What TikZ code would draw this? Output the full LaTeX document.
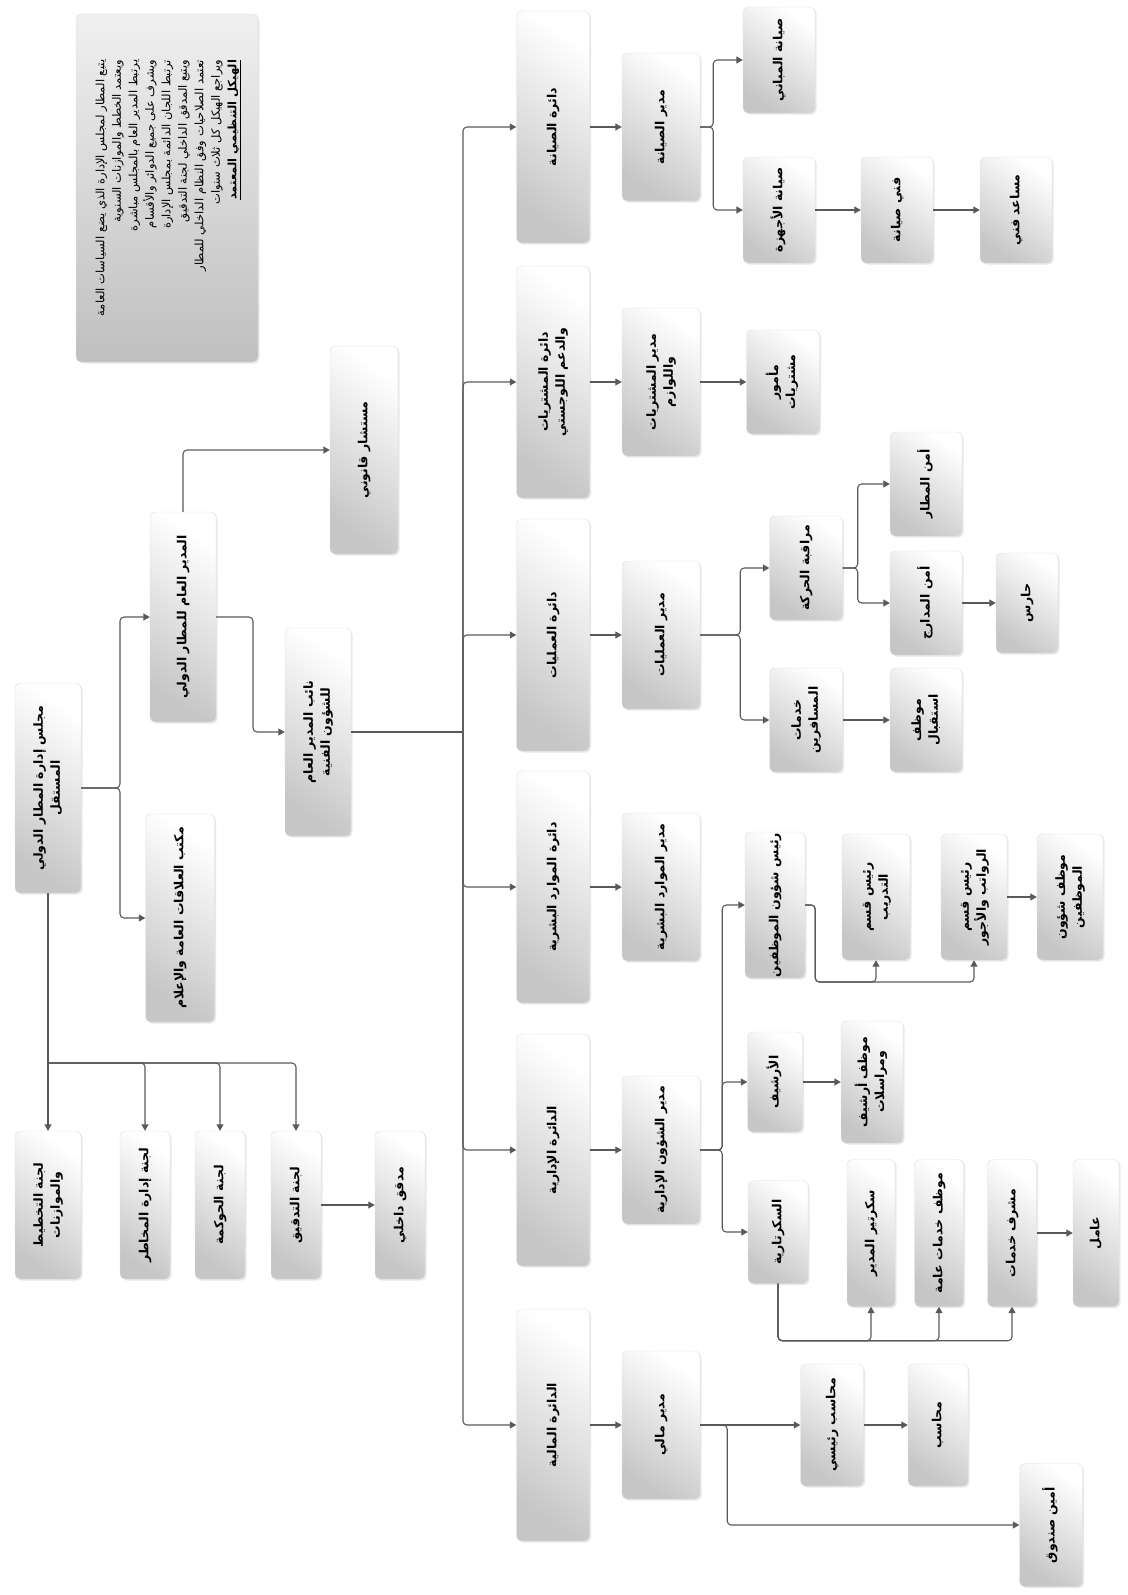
\documentclass[tikz,border=0pt]{standalone}
\usepackage{fontspec}
\usepackage{graphicx}
\usetikzlibrary{arrows.meta,shadows}
\TeXXeTstate=1
\newfontfamily\arabicfont[Script=Arabic]{DejaVu Sans}
\newcommand{\arl}[1]{\beginR #1\endR}
\newcommand{\vlab}[1]{\rotatebox{90}{\arabicfont\bfseries\fontsize{12.5}{17}\selectfont\begin{tabular}{@{}c@{}}#1\end{tabular}}}
\newcommand{\vnote}[1]{\rotatebox{90}{\arabicfont\fontsize{11.5}{16.5}\selectfont\begin{tabular}{@{}r@{}}#1\end{tabular}}}
\tikzset{
  unit/.style={rectangle, rounded corners=5pt, draw=gray!25, top color=white, bottom color=gray!45, shading angle=-35, drop shadow={opacity=0.18, shadow xshift=1.5pt, shadow yshift=-1.5pt}, inner sep=0pt},
  link/.style={draw=black!65, line width=1.1pt, rounded corners=4pt},
  arr/.style={link, -{Triangle[width=7pt,length=6.5pt]}}
}
\begin{document}
\begin{tikzpicture}[x=1pt,y=-1pt]
\useasboundingbox (0,0) rectangle (1127,1595);
\node[unit, top color=gray!12, bottom color=gray!50, minimum width=182pt, minimum height=348pt] (notes) at (167,188) {\vnote{\arl{يتبع المطار لمجلس الإدارة الذي يضع السياسات العامة}\\\arl{ويعتمد الخطط والموازنات السنوية}\\\arl{يرتبط المدير العام بالمجلس مباشرة}\\\arl{ويشرف على جميع الدوائر والأقسام}\\\arl{ترتبط اللجان الدائمة بمجلس الإدارة}\\\arl{ويتبع المدقق الداخلي لجنة التدقيق}\\\arl{تعتمد الصلاحيات وفق النظام الداخلي للمطار}\\\arl{ويراجع الهيكل كل ثلاث سنوات}\\\underline{\arl{\bfseries الهيكل التنظيمي المعتمد}}}};
\node[unit, minimum width=66pt, minimum height=210pt] (root) at (48,788) {\vlab{\arl{مجلس إدارة المطار الدولي}\\\arl{المستقل}}};
\node[unit, minimum width=69pt, minimum height=208pt] (office) at (180,918) {\vlab{\arl{مكتب العلاقات العامة والإعلام}}};
\node[unit, minimum width=66pt, minimum height=210pt] (dg) at (183,617) {\vlab{\arl{المدير العام للمطار الدولي}}};
\node[unit, minimum width=68pt, minimum height=208pt] (adv) at (364,450) {\vlab{\arl{مستشار قانوني}}};
\node[unit, minimum width=66pt, minimum height=208pt] (dep) at (318,732) {\vlab{\arl{نائب المدير العام}\\\arl{للشؤون الفنية}}};
\node[unit, minimum width=66pt, minimum height=148pt] (c1) at (48,1205) {\vlab{\arl{لجنة التخطيط}\\\arl{والموازنات}}};
\node[unit, minimum width=50pt, minimum height=148pt] (c2) at (145,1205) {\vlab{\arl{لجنة إدارة المخاطر}}};
\node[unit, minimum width=50pt, minimum height=148pt] (c3) at (220,1205) {\vlab{\arl{لجنة الحوكمة}}};
\node[unit, minimum width=50pt, minimum height=148pt] (c4) at (296,1205) {\vlab{\arl{لجنة التدقيق}}};
\node[unit, minimum width=50pt, minimum height=148pt] (c5) at (400,1205) {\vlab{\arl{مدقق داخلي}}};
\node[unit, minimum width=73pt, minimum height=232pt] (d1) at (553,127) {\vlab{\arl{دائرة الصيانة}}};
\node[unit, minimum width=73pt, minimum height=232pt] (d2) at (553,382) {\vlab{\arl{دائرة المشتريات}\\\arl{والدعم اللوجستي}}};
\node[unit, minimum width=73pt, minimum height=232pt] (d3) at (553,635) {\vlab{\arl{دائرة العمليات}}};
\node[unit, minimum width=73pt, minimum height=232pt] (d4) at (553,887) {\vlab{\arl{دائرة الموارد البشرية}}};
\node[unit, minimum width=73pt, minimum height=232pt] (d5) at (553,1150) {\vlab{\arl{الدائرة الإدارية}}};
\node[unit, minimum width=73pt, minimum height=232pt] (d6) at (553,1425) {\vlab{\arl{الدائرة المالية}}};
\node[unit, minimum width=78pt, minimum height=148pt] (m1) at (661,127) {\vlab{\arl{مدير الصيانة}}};
\node[unit, minimum width=78pt, minimum height=148pt] (m2) at (661,382) {\vlab{\arl{مدير المشتريات}\\\arl{واللوازم}}};
\node[unit, minimum width=78pt, minimum height=148pt] (m3) at (661,635) {\vlab{\arl{مدير العمليات}}};
\node[unit, minimum width=78pt, minimum height=148pt] (m4) at (661,887) {\vlab{\arl{مدير الموارد البشرية}}};
\node[unit, minimum width=78pt, minimum height=148pt] (m5) at (661,1150) {\vlab{\arl{مدير الشؤون الإدارية}}};
\node[unit, minimum width=78pt, minimum height=148pt] (m6) at (661,1425) {\vlab{\arl{مدير مالي}}};
\node[unit, minimum width=72pt, minimum height=106pt] (s1a) at (779,60) {\vlab{\arl{صيانة المباني}}};
\node[unit, minimum width=72pt, minimum height=106pt] (s1b) at (779,210) {\vlab{\arl{صيانة الأجهزة}}};
\node[unit, minimum width=72pt, minimum height=106pt] (s1c) at (897,210) {\vlab{\arl{فني صيانة}}};
\node[unit, minimum width=72pt, minimum height=106pt] (s1d) at (1016,210) {\vlab{\arl{مساعد فني}}};
\node[unit, minimum width=73pt, minimum height=104pt] (s2a) at (783,382) {\vlab{\arl{مأمور}\\\arl{مشتريات}}};
\node[unit, minimum width=73pt, minimum height=104pt] (s3a) at (806,568) {\vlab{\arl{مراقبة الحركة}}};
\node[unit, minimum width=73pt, minimum height=104pt] (s3b) at (806,720) {\vlab{\arl{خدمات}\\\arl{المسافرين}}};
\node[unit, minimum width=72pt, minimum height=104pt] (s3c) at (926,484) {\vlab{\arl{أمن المطار}}};
\node[unit, minimum width=72pt, minimum height=104pt] (s3d) at (926,603) {\vlab{\arl{أمن المدارج}}};
\node[unit, minimum width=62pt, minimum height=100pt] (s3e) at (1027,603) {\vlab{\arl{حارس}}};
\node[unit, minimum width=72pt, minimum height=104pt] (s3f) at (926,720) {\vlab{\arl{موظف}\\\arl{استقبال}}};
\node[unit, minimum width=60pt, minimum height=146pt] (s4a) at (775,905) {\vlab{\arl{رئيس شؤون الموظفين}}};
\node[unit, minimum width=68pt, minimum height=126pt] (s4b) at (876,897) {\vlab{\arl{رئيس قسم}\\\arl{التدريب}}};
\node[unit, minimum width=66pt, minimum height=126pt] (s4c) at (974,897) {\vlab{\arl{رئيس قسم}\\\arl{الرواتب والأجور}}};
\node[unit, minimum width=66pt, minimum height=126pt] (s4d) at (1070,897) {\vlab{\arl{موظف شؤون}\\\arl{الموظفين}}};
\node[unit, minimum width=55pt, minimum height=100pt] (s5a) at (775,1082) {\vlab{\arl{الأرشيف}}};
\node[unit, minimum width=62pt, minimum height=122pt] (s5c) at (872,1082) {\vlab{\arl{موظف أرشيف}\\\arl{ومراسلات}}};
\node[unit, minimum width=60pt, minimum height=103pt] (s5b) at (778,1232) {\vlab{\arl{السكرتارية}}};
\node[unit, minimum width=48pt, minimum height=147pt] (s5d) at (871,1233) {\vlab{\arl{سكرتير المدير}}};
\node[unit, minimum width=49pt, minimum height=147pt] (s5e) at (939,1233) {\vlab{\arl{موظف خدمات عامة}}};
\node[unit, minimum width=49pt, minimum height=147pt] (s5f) at (1012,1233) {\vlab{\arl{مشرف خدمات}}};
\node[unit, minimum width=46pt, minimum height=147pt] (s5g) at (1096,1233) {\vlab{\arl{عامل}}};
\node[unit, minimum width=63pt, minimum height=122pt] (s6a) at (832,1425) {\vlab{\arl{محاسب رئيسي}}};
\node[unit, minimum width=60pt, minimum height=122pt] (s6b) at (938,1425) {\vlab{\arl{محاسب}}};
\node[unit, minimum width=63pt, minimum height=123pt] (s6c) at (1051,1525) {\vlab{\arl{أمين صندوق}}};
\coordinate (cbus) at (48,1063);
\coordinate (bus) at (463,732);
\draw[arr] (root.east) -- (120,788) |- (dg.west);
\draw[arr] (root.east) -- (120,788) |- (office.west);
\draw[arr] (dg.north) |- (adv.west);
\draw[arr] (dg.east) -- (253,617) |- (dep.west);
\draw[arr] (root.south) -- (c1.north);
\draw[arr] (cbus) -| (c2.north);
\draw[arr] (cbus) -| (c3.north);
\draw[arr] (cbus) -| (c4.north);
\draw[arr] (c4) -- (c5);
\draw[link] (dep.east) -- (bus);
\draw[arr] (bus) |- (d1.west);
\draw[arr] (bus) |- (d2.west);
\draw[arr] (bus) |- (d3.west);
\draw[arr] (bus) |- (d4.west);
\draw[arr] (bus) |- (d5.west);
\draw[arr] (bus) |- (d6.west);
\draw[arr] (d1) -- (m1);
\draw[arr] (d2) -- (m2);
\draw[arr] (d3) -- (m3);
\draw[arr] (d4) -- (m4);
\draw[arr] (d5) -- (m5);
\draw[arr] (d6) -- (m6);
\draw[arr] (m1.east) -- ++(13,0) |- (s1a.west);
\draw[arr] (m1.east) -- ++(13,0) |- (s1b.west);
\draw[arr] (s1b) -- (s1c);
\draw[arr] (s1c) -- (s1d);
\draw[arr] (m2) -- (s2a);
\draw[arr] (m3.east) -- ++(40,0) |- (s3a.west);
\draw[arr] (m3.east) -- ++(40,0) |- (s3b.west);
\draw[arr] (s3a.east) -- ++(15,0) |- (s3c.west);
\draw[arr] (s3a.east) -- ++(15,0) |- (s3d.west);
\draw[arr] (s3d) -- (s3e);
\draw[arr] (s3b) -- (s3f);
\draw[arr] (m5.east) -- ++(22,0) |- (s4a.west);
\draw[arr] (m5.east) -- ++(22,0) |- (s5a.west);
\draw[arr] (m5.east) -- ++(22,0) |- (s5b.west);
\draw[arr] (s4a.east) -- ++(10,0) -- ++(0,77) -| (s4b.south);
\draw[arr] (s4a.east) -- ++(10,0) -- ++(0,77) -| (s4c.south);
\draw[arr] (s4c) -- (s4d);
\draw[arr] (s5a) -- (s5c);
\draw[arr] (s5b.south) -- ++(0,57) -| (s5d.south);
\draw[arr] (s5b.south) -- ++(0,57) -| (s5e.south);
\draw[arr] (s5b.south) -- ++(0,57) -| (s5f.south);
\draw[arr] (s5f) -- (s5g);
\draw[arr] (m6) -- (s6a);
\draw[arr] (s6a) -- (s6b);
\draw[arr] (m6.east) -- ++(27,0) |- (s6c.west);
\end{tikzpicture}
\end{document}
